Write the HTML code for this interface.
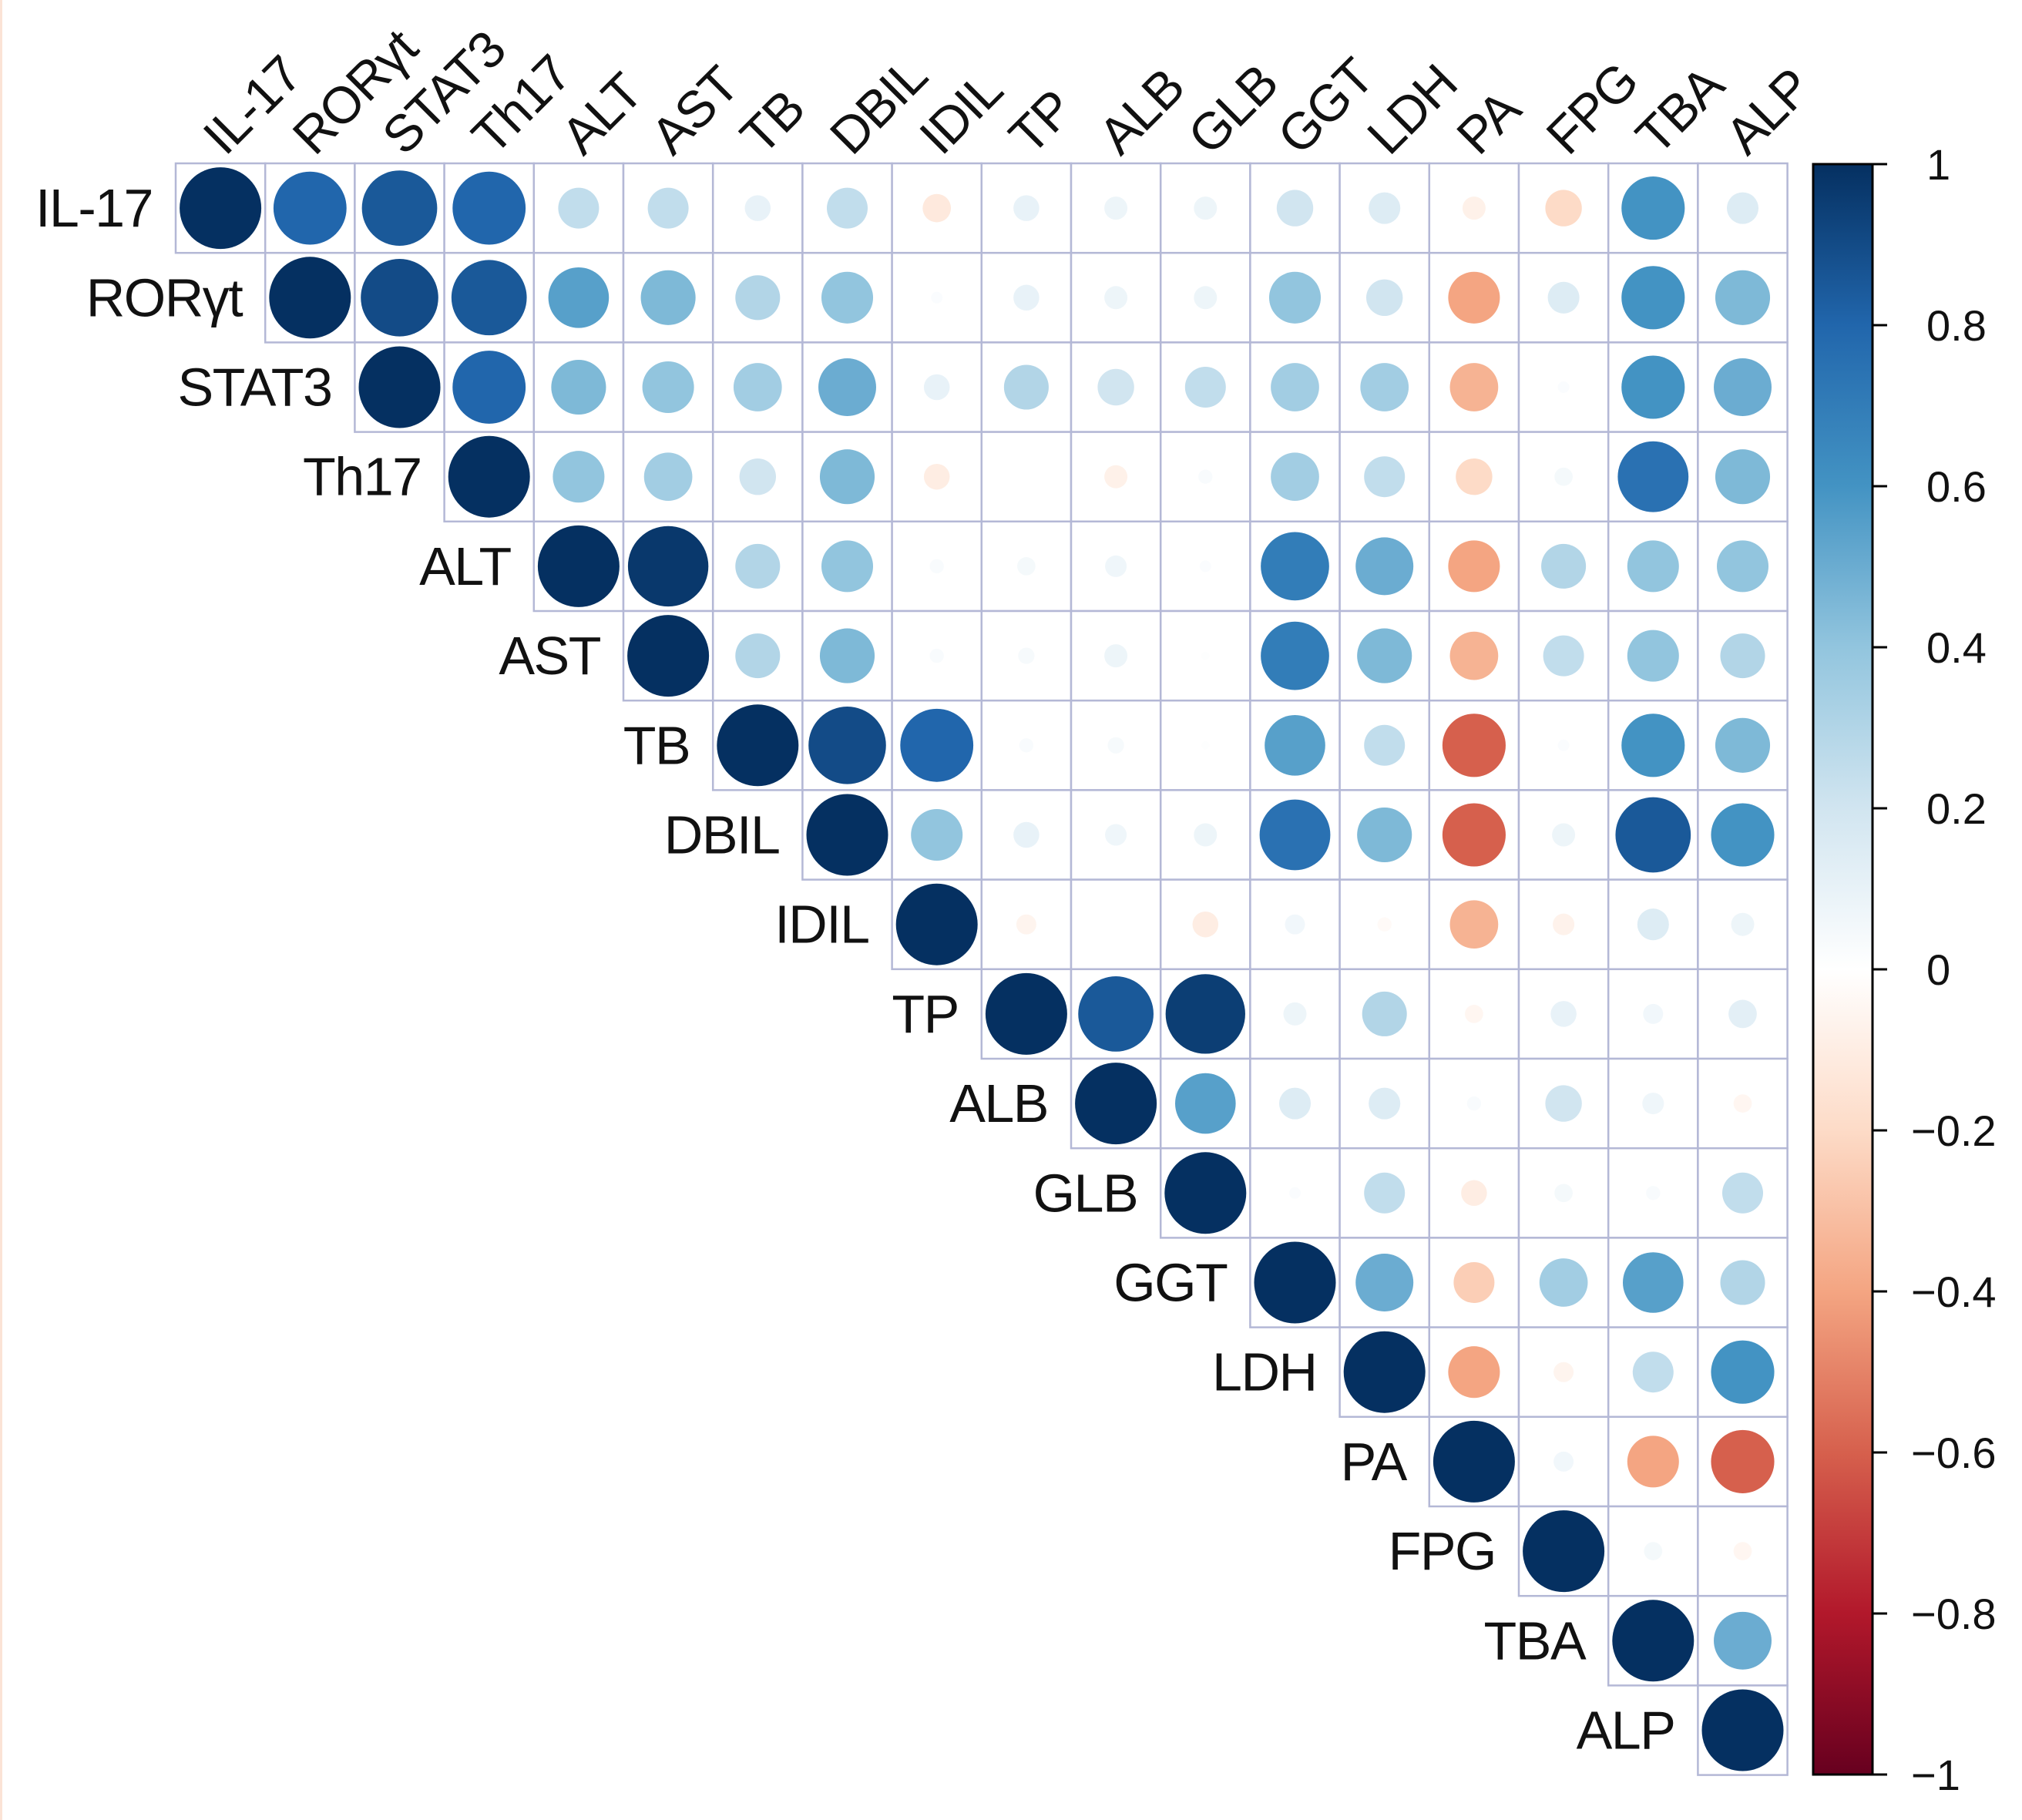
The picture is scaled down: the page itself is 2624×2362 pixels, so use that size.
<!DOCTYPE html>
<html><head><meta charset="utf-8">
<style>
html,body{margin:0;padding:0;background:#fff;}
svg{display:block;}
text{font-family:"Liberation Sans",Arial,sans-serif;fill:#111;}
</style></head>
<body>
<svg id="chart" width="2624" height="2362" viewBox="0 0 2624 2362" xmlns="http://www.w3.org/2000/svg">
<rect x="0" y="0" width="3" height="2362" fill="#fbe3d6"/>
<g id="grid"></g>
<g id="labels"></g>
<g id="cbar"></g>
</svg>
<script>
const variables = ["IL-17","RORγt","STAT3","Th17","ALT","AST","TB","DBIL","IDIL","TP","ALB","GLB","GGT","LDH","PA","FPG","TBA","ALP"];
const corrRows = [
 [1,.8,.85,.8,.25,.25,.1,.25,-.12,.1,.08,.08,.2,.15,-.08,-.2,.6,.15],
 [1,.9,.85,.55,.45,.3,.4,.02,.1,.08,.08,.4,.2,-.4,.15,.6,.45],
 [1,.8,.45,.4,.35,.5,.1,.3,.2,.25,.35,.35,-.35,.02,.6,.5],
 [1,.4,.35,.2,.45,-.1,0,-.08,.03,.35,.25,-.2,.05,.75,.45],
 [1,.97,.3,.4,.03,.05,.07,.02,.7,.5,-.4,.3,.4,.4],
 [1,.3,.45,.03,.04,.08,.01,.7,.45,-.35,.25,.4,.3],
 [1,.9,.8,.03,.04,.01,.55,.25,-.6,.02,.6,.45],
 [1,.4,.1,.07,.08,.75,.45,-.6,.08,.85,.6],
 [1,-.06,0,-.1,.06,-.03,-.35,-.07,.15,.08],
 [1,.85,.95,.08,.3,-.05,.1,.06,.12],
 [1,.55,.15,.15,.03,.2,.07,-.05],
 [1,.02,.25,-.1,.05,.03,.25],
 [1,.5,-.25,.35,.55,.3],
 [1,-.4,-.06,.25,.6],
 [1,.06,-.4,-.6],
 [1,.05,-.05],
 [1,.5],
 [1]
];
const tickValues = [1,0.8,0.6,0.4,0.2,0,-0.2,-0.4,-0.6,-0.8,-1];
const tickLabels = ["1","0.8","0.6","0.4","0.2","0","\u22120.2","\u22120.4","\u22120.6","\u22120.8","\u22121"];
const palette = ["#67001F","#B2182B","#D6604D","#F4A582","#FDDBC7","#FFFFFF","#D1E5F0","#92C5DE","#4393C3","#2166AC","#053061"];

const NS="http://www.w3.org/2000/svg";
const L=228, T=212, C=116.2, n=variables.length, RMAX=53;
const CB_X=2353, CB_W=77, CB_T=213, CB_B=2303;
function hex(h){return [1,3,5].map(i=>parseInt(h.substr(i,2),16));}
function color(v){
  const t=(v+1)/2*(palette.length-1);
  const i=Math.min(Math.floor(t),palette.length-2), f=t-i;
  const a=hex(palette[i]), b=hex(palette[i+1]);
  return "rgb("+a.map((x,k)=>Math.round(x+(b[k]-x)*f)).join(",")+")";
}
function xS(j){return L+j*C;}
function yS(i){return T+i*C;}
function cbY(v){return CB_T+(1-v)/2*(CB_B-CB_T);}
function mk(tag,attrs,parent){const e=document.createElementNS(NS,tag);for(const k in attrs)e.setAttribute(k,attrs[k]);parent.appendChild(e);return e;}

const grid=document.getElementById('grid');
const labels=document.getElementById('labels');
for(let i=0;i<n;i++){
  for(let j=i;j<n;j++){
    const v=corrRows[i][j-i];
    const r=mk('rect',{x:xS(j),y:yS(i),width:C,height:C,fill:'#fff',stroke:'#b4b8d6','stroke-width':2.5},grid);
    
    
    const c=mk('circle',{cx:xS(j)+C/2,cy:yS(i)+C/2,r:RMAX*Math.sqrt(Math.abs(v)),fill:color(v)},grid);
    
    
  }
  const rl=mk('text',{x:xS(i)-30,y:yS(i)+C/2+24,'text-anchor':'end','font-size':70,'letter-spacing':-1.5},labels);
  rl.textContent=variables[i];
  
  
  const cx=xS(i)+C/2+6, cy=T-8;
  const cl=mk('text',{x:cx,y:cy,'font-size':67,'letter-spacing':-1.5,transform:'rotate(-45 '+cx+' '+cy+')'},labels);
  cl.textContent=variables[i];
  
  
}

const cbar=document.getElementById('cbar');
const defs=mk('defs',{},cbar);
const grad=mk('linearGradient',{id:'cg',x1:0,y1:0,x2:0,y2:1},defs);
palette.slice().reverse().forEach((p,k)=>mk('stop',{offset:k/(palette.length-1),'stop-color':p},grad));
const bar=mk('rect',{x:CB_X,y:CB_T,width:CB_W,height:CB_B-CB_T,fill:'url(#cg)',stroke:'#000','stroke-width':3},cbar);


tickValues.forEach((v,k)=>{
  const y=cbY(v);
  const tk=mk('line',{x1:CB_X+CB_W,x2:CB_X+CB_W+19,y1:y,y2:y,stroke:'#000','stroke-width':3},cbar);
  
  
  const lb=mk('text',{x:v>=0?2500:2480,y:y+20,'font-size':56,'text-anchor':'start'},cbar);
  lb.textContent=tickLabels[k];
  
  
});
</script>
</body></html>
